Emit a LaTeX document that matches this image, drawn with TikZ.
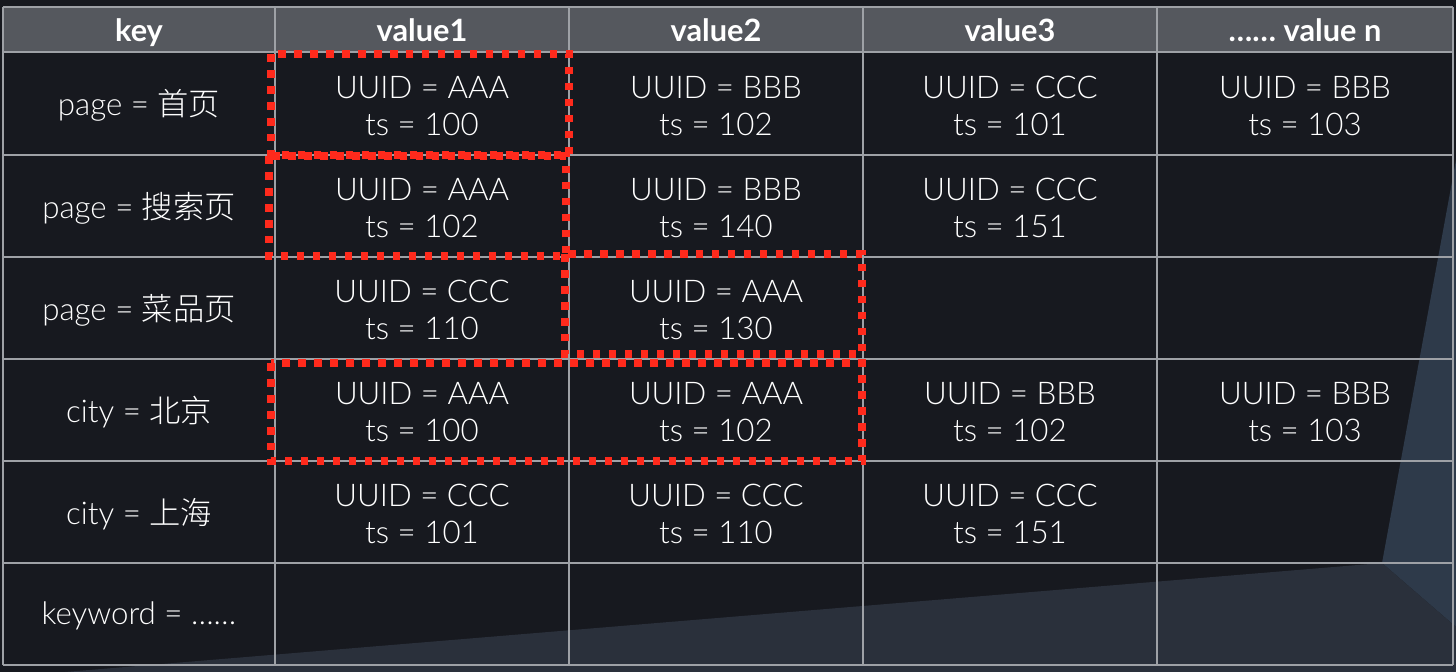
\documentclass[tikz,border=0pt]{standalone}
\usepackage{fontspec}
\setmainfont{Lato}[UprightFont={* Light},BoldFont={* Bold}]
\newfontfamily\cjk{Noto Sans CJK SC}[UprightFont={* Light}]
\usepackage{xcolor}
\usepackage{tikz}
\definecolor{fondp}{HTML}{17191F}
\definecolor{grisp}{HTML}{2A303B}
\definecolor{bleup}{HTML}{2E3A4A}
\definecolor{entetep}{HTML}{55585E}
\definecolor{lignep}{HTML}{9EA1A6}
\definecolor{rougep}{HTML}{FF2A1C}

\begin{document}
\begin{tikzpicture}[x=0.02cm,y=-0.02cm,
        cellt/.style={text=white,align=center,font=\fontsize{17.8}{21.5}\selectfont},
        headt/.style={text=white,text height=0.72em,text depth=0.22em,font=\fontsize{17.5}{21}\selectfont\bfseries},
        redbox/.style={draw=rougep,line width=4.3pt,dash pattern=on 4.3pt off 4.8pt}]
        \fill[fondp] (0,0) rectangle (1456,672);
        \fill[bleup] (1456,160) -- (1382,563) -- (1456,627) -- cycle;
        \fill[grisp] (65,672) -- (1382,563) -- (1456,627) -- (1456,672) -- cycle;
        \fill[entetep] (3,7) rectangle (1453,52);
        \foreach \y in {7,52,155,257,359,461,563,665}
            \draw[lignep,line width=0.6pt] (3,\y) -- (1453,\y);
        \foreach \x in {3,275,569,863,1157,1453}
            \draw[lignep,line width=0.6pt] (\x,7) -- (\x,665);
        % entete
        \node[headt] (hkey) at (139,37) {key};
        \node[headt] (hval1) at (422,37) {value1};
        \node[headt] (hval2) at (716,37) {value2};
        \node[headt] (hval3) at (1010,37) {value3};
        \node[headt] (hvaln) at (1305,37) {…… value n};
        % cles
        \node[cellt] (k1) at (139,105) {page = {\cjk 首页}};
        \node[cellt] (k2) at (139,208) {page = {\cjk 搜索页}};
        \node[cellt] (k3) at (139,310) {page = {\cjk 菜品页}};
        \node[cellt] (k4) at (139,412) {city = {\cjk 北京}};
        \node[cellt] (k5) at (139,514) {city = {\cjk 上海}};
        \node[cellt] (k6) at (139,616) {keyword = ……};
        % valeurs
        \node[cellt] (c11) at (422,106) {UUID = AAA\\ts = 100};
        \node[cellt] (c12) at (716,106) {UUID = BBB\\ts = 102};
        \node[cellt] (c13) at (1010,106) {UUID = CCC\\ts = 101};
        \node[cellt] (c1n) at (1305,106) {UUID = BBB\\ts = 103};
        \node[cellt] (c21) at (422,208) {UUID = AAA\\ts = 102};
        \node[cellt] (c22) at (716,208) {UUID = BBB\\ts = 140};
        \node[cellt] (c23) at (1010,208) {UUID = CCC\\ts = 151};
        \node[cellt] (c31) at (422,310) {UUID = CCC\\ts = 110};
        \node[cellt] (c32) at (716,310) {UUID = AAA\\ts = 130};
        \node[cellt] (c41) at (422,412) {UUID = AAA\\ts = 100};
        \node[cellt] (c42) at (716,412) {UUID = AAA\\ts = 102};
        \node[cellt] (c43) at (1010,412) {UUID = BBB\\ts = 102};
        \node[cellt] (c4n) at (1305,412) {UUID = BBB\\ts = 103};
        \node[cellt] (c51) at (422,514) {UUID = CCC\\ts = 101};
        \node[cellt] (c52) at (716,514) {UUID = CCC\\ts = 110};
        \node[cellt] (c53) at (1010,514) {UUID = CCC\\ts = 151};
        % cadres rouges
        \draw[redbox] (271,54) rectangle (569,155);
        \draw[redbox] (269,156) rectangle (566,256);
        \draw[redbox] (565,254) rectangle (862,354);
        \draw[redbox] (271,363) rectangle (862,461);
\end{tikzpicture}
\end{document}
